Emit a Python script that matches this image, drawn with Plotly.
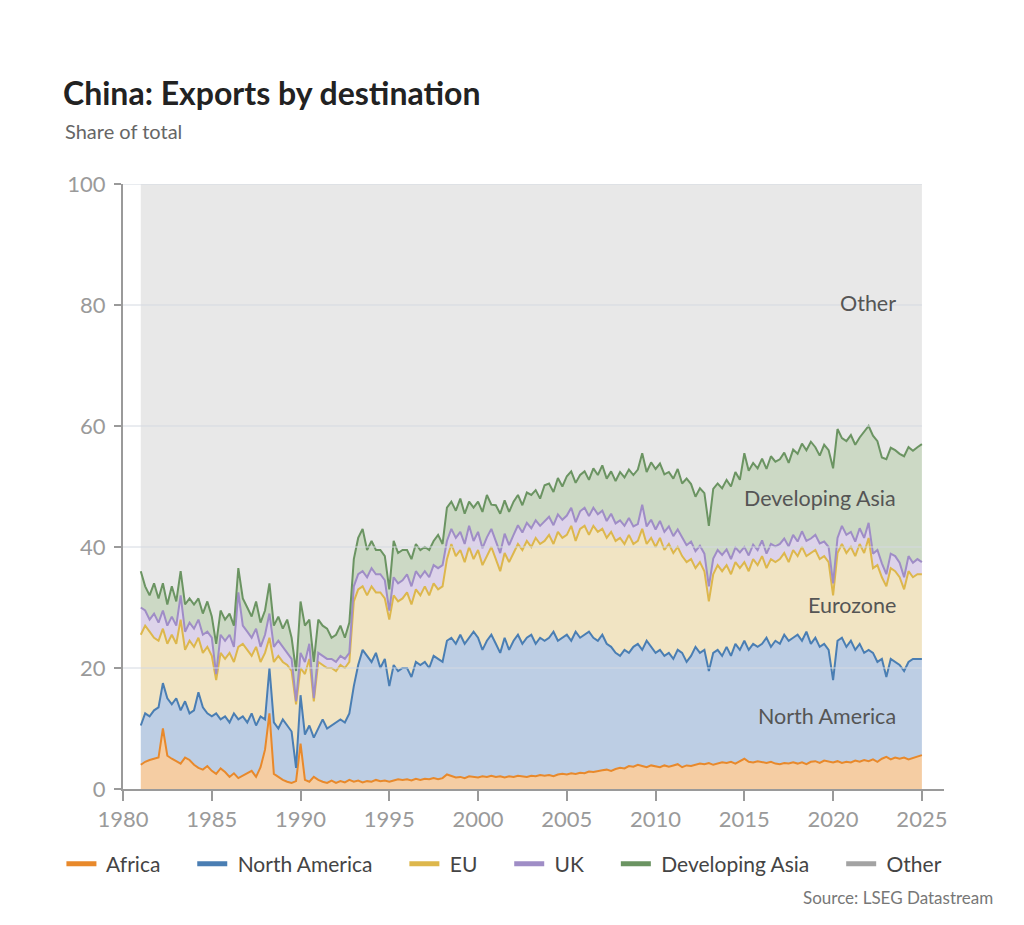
import pandas as pd
import plotly.graph_objects as go

# quarterly shares of China's exports (%), 1981Q1 .. 2025Q1
africa = [
    4.0, 4.5, 4.8, 5.0,  5.2, 10.0, 5.5, 5.0,  4.6, 4.2, 5.2, 4.8,  4.0, 3.5, 3.2, 3.8,
    3.0, 2.5, 3.4, 2.8,  2.0, 2.6, 1.8, 2.2,  2.5, 3.0, 2.0, 3.6,  6.5, 12.5, 2.5, 2.0,
    1.5, 1.2, 1.0, 1.3,  7.5, 1.5, 1.2, 2.0,  1.5, 1.2, 1.0, 1.4,  1.0, 1.3, 1.1, 1.5,
    1.2, 1.4, 1.1, 1.3,  1.2, 1.5, 1.3, 1.4,  1.2, 1.4, 1.6, 1.5,  1.6, 1.4, 1.7, 1.5,
    1.7, 1.6, 1.8, 1.6,  1.8, 2.4, 2.1, 1.9,  2.0, 1.8, 2.1, 2.0,  1.9, 2.1, 2.0, 2.2,
    2.0, 2.1, 1.9, 2.1,  2.0, 2.2, 2.1, 2.0,  2.2, 2.1, 2.3, 2.2,  2.3, 2.1, 2.4, 2.5,
    2.4, 2.6, 2.5, 2.7,  2.6, 2.9, 2.8, 3.0,  3.1, 3.2, 3.0, 3.3,  3.5, 3.4, 3.8, 3.7,
    4.0, 3.8, 3.6, 3.9,  3.8, 3.6, 3.9, 3.7,  3.9, 4.1, 3.6, 3.9,  3.8, 4.0, 4.2, 4.1,
    4.3, 4.0, 4.2, 4.4,  4.3, 4.5, 4.2, 4.6,  5.0, 4.5, 4.4, 4.6,  4.5, 4.3, 4.5, 4.2,
    4.1, 4.3, 4.2, 4.4,  4.2, 4.4, 4.1, 4.5,  4.6, 4.3, 4.7, 4.5,  4.4, 4.6, 4.3, 4.5,
    4.4, 4.7, 4.5, 4.8,  4.6, 4.9, 4.5, 5.0,  5.3, 4.9, 5.2, 5.0,  5.2, 4.9, 5.1, 5.3,
    5.6,
]
north_america = [
    6.5, 8.0, 7.2, 8.0,  8.3, 7.5, 9.5, 9.0,  10.4, 8.8, 9.3, 7.7,  9.0, 12.5, 10.3, 8.7,
    9.0, 10.0, 8.1, 9.2,  9.0, 9.9, 9.7, 9.8,  8.5, 9.5, 8.5, 8.4,  5.0, 7.5, 8.5, 8.0,
    10.0, 9.3, 8.5, 2.2,  8.0, 7.5, 9.3, 6.5,  8.5, 10.3, 9.0, 9.1,  10.0, 10.2, 9.9, 11.0,
    15.8, 19.1, 21.9, 20.7,  19.8, 21.0, 18.7, 20.1,  15.8, 19.1, 17.9, 18.5,  18.4, 17.1, 19.3, 19.0,
    19.3, 18.4, 20.2, 19.9,  19.2, 22.1, 22.9, 22.1,  23.5, 22.2, 22.9, 24.0,  23.1, 20.9, 22.5, 23.3,
    22.0, 20.4, 23.1, 20.9,  22.5, 23.3, 21.9, 23.0,  23.3, 21.9, 22.7, 22.3,  22.7, 23.9, 22.1, 22.5,
    23.1, 21.9, 23.5, 22.3,  22.9, 23.1, 22.2, 21.5,  22.4, 20.8, 20.5, 19.2,  18.5, 19.6, 18.7, 19.8,
    20.0, 19.2, 20.9, 19.6,  18.7, 19.4, 18.1, 18.8,  17.6, 18.9, 18.9, 17.1,  18.2, 19.5, 18.3, 18.9,
    15.2, 18.5, 18.8, 17.6,  19.2, 17.5, 19.8, 18.4,  19.5, 18.5, 19.6, 18.9,  19.5, 20.7, 19.0, 20.3,
    19.9, 21.2, 20.3, 20.6,  21.3, 20.1, 21.9, 19.5,  20.4, 19.2, 19.3, 18.5,  13.6, 19.9, 20.7, 19.0,
    20.1, 18.3, 19.5, 17.7,  18.4, 17.6, 16.5, 16.5,  13.2, 16.6, 15.8, 15.5,  14.3, 16.1, 16.4, 16.2,
    15.9,
]
eu = [
    15.0, 14.5, 14.0, 12.0,  11.0, 9.0, 9.0, 11.5,  9.0, 15.0, 8.5, 12.0,  10.5, 9.0, 9.0, 11.0,
    10.0, 5.5, 11.0, 9.5,  11.5, 8.5, 12.0, 12.0,  12.0, 9.5, 13.0, 9.0,  11.0, 5.0, 10.0, 12.0,
    9.5, 10.0, 10.0, 10.5,  4.5, 10.0, 11.0, 6.0,  11.0, 9.0, 10.0, 9.5,  8.5, 9.0, 9.0, 8.5,
    14.0, 12.5, 10.5, 10.0,  12.5, 10.0, 12.5, 10.0,  11.0, 11.5, 11.5, 11.5,  12.5, 12.0, 12.0, 11.5,
    12.5, 12.0, 12.0, 11.5,  12.5, 13.5, 15.5, 14.5,  14.0, 13.5, 15.0, 12.0,  14.5, 14.0, 14.0, 14.5,
    14.0, 13.5, 14.0, 14.5,  14.5, 15.0, 15.5, 16.0,  14.5, 17.5, 15.5, 16.5,  17.0, 14.5, 18.0, 16.5,
    16.5, 19.0, 15.0, 18.0,  18.0, 16.0, 18.5, 18.0,  17.5, 17.5, 19.0, 18.5,  19.5, 17.5, 19.5, 17.0,
    17.0, 20.0, 16.0, 18.0,  17.5, 18.5, 17.5, 18.0,  17.5, 17.0, 16.0, 16.5,  16.0, 13.0, 15.0, 13.0,
    11.5, 13.0, 14.0, 14.0,  13.5, 13.5, 13.5, 13.5,  13.0, 13.0, 14.0, 13.5,  14.5, 11.5, 14.5, 13.0,
    14.0, 13.5, 13.0, 14.5,  13.0, 15.5, 12.5, 15.0,  14.5, 14.5, 14.5, 14.5,  14.0, 14.5, 15.5, 15.5,
    15.5, 15.5, 16.5, 16.5,  18.5, 14.0, 16.0, 13.5,  15.0, 15.0, 15.0, 14.5,  13.5, 15.0, 13.5, 14.0,
    14.0,
]
uk = [
    4.5, 2.5, 2.0, 4.0,  3.0, 3.0, 3.0, 3.0,  3.0, 4.0, 3.0, 3.0,  3.0, 3.0, 3.0, 2.5,
    3.0, 1.0, 3.0, 3.0,  3.0, 2.5, 9.0, 3.0,  3.0, 3.0, 3.0, 2.5,  3.0, 4.0, 2.5, 2.5,
    2.5, 2.0, 2.0, 0.5,  2.5, 2.0, 2.5, 0.5,  1.5, 1.5, 1.5, 1.5,  1.5, 1.5, 1.5, 1.5,
    2.5, 2.5, 2.5, 3.0,  3.0, 3.0, 3.0, 3.0,  1.5, 3.0, 3.0, 3.0,  3.0, 3.0, 3.0, 3.0,
    2.5, 3.0, 3.0, 3.5,  3.5, 3.0, 2.5, 3.0,  3.0, 3.0, 3.5, 3.0,  3.0, 2.8, 3.1, 3.0,
    2.9, 3.0, 3.2, 2.8,  3.0, 3.1, 2.9, 3.0,  3.1, 2.9, 3.0, 3.2,  3.0, 3.1, 2.9, 3.0,
    3.2, 3.0, 3.1, 2.9,  3.0, 3.1, 3.0, 2.9,  3.0, 2.8, 3.0, 2.9,  2.9, 3.0, 2.8, 2.9,
    2.8, 4.0, 2.9, 3.0,  2.9, 2.8, 3.0, 2.9,  2.8, 2.9, 3.0, 2.8,  2.9, 2.8, 2.7, 2.9,
    2.5, 2.6, 2.5, 2.7,  2.6, 2.5, 2.4, 2.6,  2.5, 2.6, 2.4, 2.5,  2.6, 2.4, 2.5, 2.6,
    2.5, 2.4, 2.6, 2.5,  2.4, 2.6, 2.5, 2.4,  2.5, 2.6, 2.4, 2.5,  2.0, 2.5, 3.0, 3.0,
    2.5, 2.4, 2.6, 2.5,  2.5, 2.4, 2.5, 2.3,  2.0, 2.4, 2.5, 2.4,  2.0, 2.5, 2.4, 2.5,
    2.0,
]
developing_asia = [
    6.0, 4.0, 4.0, 5.0,  4.0, 4.5, 3.5, 5.0,  4.0, 4.0, 4.5, 4.0,  4.0, 3.5, 3.5, 5.0,
    3.5, 5.0, 4.0, 3.5,  3.5, 3.5, 4.0, 4.5,  4.0, 3.5, 4.5, 4.0,  4.0, 5.0, 3.5, 4.0,
    3.0, 5.5, 3.5, 5.0,  8.5, 6.0, 4.0, 6.0,  5.5, 5.0, 5.0, 3.5,  4.5, 5.0, 3.5, 5.0,
    4.5, 6.0, 7.0, 4.5,  4.5, 4.0, 4.0, 4.0,  3.5, 6.0, 5.0, 5.0,  4.0, 4.5, 4.5, 4.5,
    4.0, 4.5, 4.0, 5.5,  3.5, 5.5, 4.5, 4.5,  5.5, 5.0, 4.0, 5.5,  5.0, 6.0, 7.0, 4.0,
    6.0, 6.5, 5.5, 5.5,  5.5, 5.0, 4.5, 5.0,  5.5, 5.0, 4.5, 6.0,  5.5, 5.5, 6.0, 5.5,
    6.5, 6.0, 6.5, 6.0,  6.0, 6.0, 6.5, 6.5,  7.5, 7.0, 7.0, 7.0,  8.0, 8.0, 8.0, 8.5,
    9.0, 8.5, 9.0, 9.5,  10.0, 9.5, 9.5, 9.0,  9.5, 10.0, 9.0, 11.0,  9.5, 9.0, 9.5, 10.0,
    10.0, 11.5, 11.0, 11.0,  11.5, 12.0, 12.5, 12.0,  15.5, 14.0, 13.5, 13.5,  13.5, 14.0, 14.5, 14.0,
    14.0, 14.2, 13.8, 14.1,  14.5, 14.5, 15.0, 16.0,  14.5, 14.5, 16.0, 16.0,  19.0, 18.0, 14.5, 15.5,
    16.0, 16.0, 15.0, 17.5,  16.0, 19.5, 18.0, 17.5,  19.0, 17.5, 17.5, 18.0,  20.0, 18.0, 18.5, 18.5,
    19.5,
]

names = ["Africa", "North America", "EU", "UK", "Developing Asia", "Other"]
line_colors = ["#E8892B", "#4A7EB3", "#DDB74C", "#9F8DC6", "#6B9462", "#A3A3A3"]
fill_colors = ["#F5CDA3", "#BDCEE4", "#F1E4C3", "#DDD3EA", "#CCD9C5", "#E8E8E8"]

y_ticks = [0, 20, 40, 60, 80, 100]
area_labels = ["Other", "Developing Asia", "Eurozone", "North America"]
area_label_y = [80.3, 48.1, 30.4, 12.1]

dates = pd.date_range("1981-01-01", periods=len(africa), freq="QS")
shares = [africa, north_america, eu, uk, developing_asia]
total = [sum(v) for v in zip(*shares)]
other = [100 - t for t in total]
shares.append(other)

font = "Lato, 'Open Sans', sans-serif"

fig = go.Figure()
for i, vals in enumerate(shares):
    fig.add_trace(go.Scatter(
        x=dates, y=vals, name=names[i], stackgroup="one", mode="lines",
        line=dict(color=line_colors[i], width=0 if names[i] == "Other" else 2),
        fillcolor=fill_colors[i], showlegend=False, hoverinfo="skip"))

# legend entries drawn as plain short lines
pad = "\u00a0" * 5
for i, n in enumerate(names):
    fig.add_trace(go.Scatter(x=[None], y=[None], mode="lines", name="\u00a0" + n + pad,
                             line=dict(color=line_colors[i], width=5)))

# gridlines sit above the fills
for v in y_ticks[1:]:
    fig.add_shape(type="line", xref="x", yref="y", x0="1980-01-01", x1=dates[-1],
                  y0=v, y1=v, line=dict(color="#D4D9E1", width=1), layer="above")

for txt, yv in zip(area_labels, area_label_y):
    fig.add_annotation(x="2023-08-20", y=yv, text=txt, showarrow=False, xanchor="right",
                       font=dict(family=font, size=21.5, color="#555555"))

fig.add_annotation(xref="paper", yref="paper", x=-0.073, y=1.0876, text="Share of total",
                   showarrow=False, xanchor="left", yanchor="middle",
                   font=dict(family=font, size=20, color="#666666"))
fig.add_annotation(xref="paper", yref="paper", x=1.062, y=-0.18, text="Source: LSEG Datastream",
                   showarrow=False, xanchor="right", yanchor="middle",
                   font=dict(family=font, size=17, color="#777777"))

fig.update_layout(
    width=1024, height=925,
    margin=dict(l=115, r=88, t=176, b=144),
    paper_bgcolor="white", plot_bgcolor="white",
    title=dict(text="<b>China: Exports by destination</b>", xref="container", x=55 / 1024,
               xanchor="left", y=1 - 86 / 925, yanchor="middle",
               font=dict(family=font, size=32, color="#222222")),
    legend=dict(orientation="h", x=-0.075, xanchor="left", y=-0.124, yanchor="middle",
                font=dict(family=font, size=21, color="#444444"), traceorder="normal"),
    xaxis=dict(type="date", range=["1980-01-01", "2026-04-01"], tick0="1980-01-01",
               dtick="M60", tickformat="%Y", showgrid=False, showline=True,
               linecolor="#9A9A9A", linewidth=2, ticks="outside", ticklen=10,
               tickcolor="#9A9A9A", tickwidth=1.5,
               tickfont=dict(family=font, size=22, color="#9A9A9A"), zeroline=False),
    yaxis=dict(range=[0, 100], tickvals=y_ticks, showgrid=False, showline=True,
               linecolor="#9A9A9A", linewidth=2, ticks="outside", ticklen=7,
               tickcolor="#9A9A9A", tickwidth=1.5, zeroline=False, ticklabelstandoff=4,
               tickfont=dict(family=font, size=22, color="#9A9A9A")),
)

fig.write_html("out.html")
